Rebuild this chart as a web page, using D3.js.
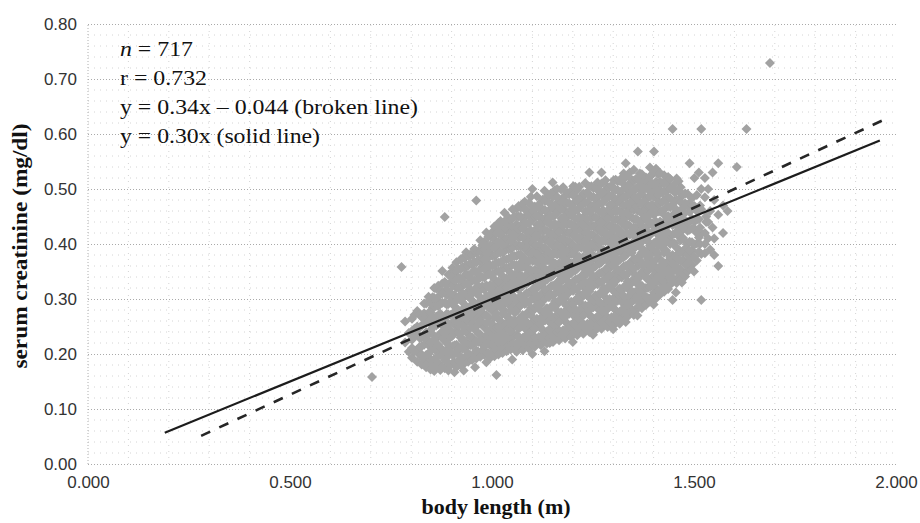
<!DOCTYPE html>
<html><head><meta charset="utf-8">
<script src="https://cdn.jsdelivr.net/npm/d3@7/dist/d3.min.js"></script>
<style>
html,body{margin:0;padding:0;background:#fff;}
svg{display:block;}
</style></head>
<body>
<svg id="chart" width="920" height="523"></svg>
<script>
// ---- data ----
const xTicks = [0, 0.5, 1.0, 1.5, 2.0];
const xTickLabels = ["0.000", "0.500", "1.000", "1.500", "2.000"];
const yTicks = [0, 0.1, 0.2, 0.3, 0.4, 0.5, 0.6, 0.7, 0.8];
const yTickLabels = ["0.00", "0.10", "0.20", "0.30", "0.40", "0.50", "0.60", "0.70", "0.80"];
const xMinorTicks = [0.1,0.2,0.3,0.4,0.6,0.7,0.8,0.9,1.1,1.2,1.3,1.4,1.6,1.7,1.8,1.9];
const yMinorTicks = [0.02,0.04,0.06,0.08,0.12,0.14,0.16,0.18,0.22,0.24,0.26,0.28,0.32,0.34,0.36,0.38,0.42,0.44,0.46,0.48,0.52,0.54,0.56,0.58,0.62,0.64,0.66,0.68,0.72,0.74,0.76,0.78];

// body length (m) and the serum creatinine (mg/dl) values read at that length
const scatterColumns = [
[0.703,[.158]],
[0.776,[.358]],
[0.785,[.221,.259]],
[0.794,[.204,.238]],
[0.802,[.193,.211,.242,.264]],
[0.808,[.205,.232,.246,.271]],
[0.815,[.186,.208,.237,.250,.278]],
[0.821,[.198,.229,.248,.272]],
[0.826,[.181,.199,.230,.252,.267]],
[0.832,[.19,.217,.231,.256,.292]],
[0.837,[.176,.198,.227,.240,.268,.292]],
[0.843,[.185,.216,.235,.259,.275,.304]],
[0.848,[.172,.190,.221,.243,.258,.292]],
[0.853,[.182,.209,.223,.248,.284,.303]],
[0.857,[.169,.191,.220,.233,.261,.285,.320]],
[0.862,[.178,.209,.228,.252,.268,.297,.319]],
[0.867,[.184,.202,.233,.255,.270,.304,.324]],
[0.872,[.171,.198,.212,.237,.273,.292,.315]],
[0.877,[.177,.199,.228,.241,.269,.293,.328,.351]],
[0.883,[.174,.205,.224,.248,.264,.293,.315,.449]],
[0.888,[.187,.205,.236,.258,.273,.307,.327]],
[0.892,[.170,.197,.211,.236,.272,.291,.314,.344]],
[0.897,[.179,.201,.230,.243,.271,.295,.330,.346]],
[0.902,[.183,.214,.233,.257,.273,.302,.324,.357]],
[0.907,[.167,.185,.216,.238,.253,.287,.307,.334,.350]],
[0.912,[.176,.203,.217,.242,.278,.297,.320,.350,.367]],
[0.917,[.188,.210,.239,.252,.280,.304,.339,.355]],
[0.922,[.180,.211,.230,.254,.270,.299,.321,.354,.372]],
[0.927,[.191,.209,.240,.262,.277,.311,.331,.358,.374]],
[0.932,[.183,.210,.224,.249,.285,.304,.327,.357,.374]],
[0.936,[.195,.217,.246,.259,.287,.311,.346,.362,.385]],
[0.941,[.186,.217,.236,.260,.276,.305,.327,.360,.378]],
[0.946,[.198,.216,.247,.269,.284,.318,.338,.365,.381]],
[0.951,[.189,.216,.230,.255,.291,.310,.333,.363,.380]],
[0.956,[.201,.223,.252,.265,.293,.317,.352,.368,.391]],
[0.961,[.192,.223,.242,.266,.282,.311,.333,.366,.384,.479]],
[0.966,[.204,.222,.253,.275,.290,.324,.344,.371,.387]],
[0.971,[.195,.222,.236,.261,.297,.316,.339,.369,.386,.407]],
[0.976,[.207,.229,.258,.271,.299,.323,.358,.374,.397]],
[0.981,[.198,.229,.248,.272,.288,.317,.339,.372,.390,.404]],
[0.986,[.185,.203,.234,.256,.271,.305,.325,.352,.368,.397,.421]],
[0.991,[.201,.228,.242,.267,.303,.322,.345,.375,.392,.413]],
[0.996,[.193,.215,.244,.257,.285,.309,.344,.360,.383,.414]],
[1.001,[.204,.235,.254,.278,.294,.323,.345,.378,.396,.422]],
[1.006,[.196,.214,.245,.267,.282,.316,.336,.363,.379,.408,.432]],
[1.011,[.162,.207,.234,.248,.273,.309,.328,.351,.381,.398,.419]],
[1.016,[.199,.221,.250,.263,.291,.315,.350,.366,.389,.420,.438]],
[1.021,[.210,.241,.260,.284,.300,.329,.351,.384,.402,.428,.442]],
[1.026,[.202,.220,.251,.273,.288,.322,.342,.369,.385,.414,.438]],
[1.031,[.213,.240,.254,.279,.315,.334,.357,.387,.404,.425,.457]],
[1.036,[.205,.227,.256,.269,.297,.321,.356,.372,.395,.426,.444]],
[1.041,[.216,.247,.266,.290,.306,.335,.357,.390,.408,.434,.448]],
[1.046,[.208,.226,.257,.279,.294,.328,.348,.375,.391,.420,.444]],
[1.051,[.219,.246,.260,.285,.321,.340,.363,.393,.410,.431,.463]],
[1.056,[.211,.233,.262,.275,.303,.327,.362,.378,.401,.432,.450]],
[1.061,[.204,.235,.254,.278,.294,.323,.345,.378,.396,.422,.436,.464]],
[1.066,[.214,.232,.263,.285,.300,.334,.354,.381,.397,.426,.450,.469]],
[1.071,[.222,.249,.263,.288,.324,.343,.366,.396,.413,.434,.466]],
[1.076,[.207,.229,.258,.271,.299,.323,.358,.374,.397,.428,.446,.473]],
[1.081,[.217,.248,.267,.291,.307,.336,.358,.391,.409,.435,.449,.477]],
[1.086,[.225,.243,.274,.296,.311,.345,.365,.392,.408,.437,.461]],
[1.091,[.210,.237,.251,.276,.312,.331,.354,.384,.401,.422,.454,.474]],
[1.096,[.220,.242,.271,.284,.312,.336,.371,.387,.410,.441,.459,.486]],
[1.101,[.228,.259,.278,.302,.318,.347,.369,.402,.420,.446,.460]],
[1.106,[.213,.231,.262,.284,.299,.333,.353,.380,.396,.425,.449,.468]],
[1.111,[.223,.250,.264,.289,.325,.344,.367,.397,.414,.435,.467,.487]],
[1.116,[.231,.253,.282,.295,.323,.347,.382,.398,.421,.452,.470]],
[1.121,[.216,.247,.266,.290,.306,.335,.357,.390,.408,.434,.448,.476]],
[1.126,[.226,.244,.275,.297,.312,.346,.366,.393,.409,.438,.462,.481]],
[1.131,[.234,.261,.275,.300,.336,.355,.378,.408,.425,.446,.478]],
[1.136,[.219,.241,.270,.283,.311,.335,.370,.386,.409,.440,.458,.485]],
[1.141,[.229,.260,.279,.303,.319,.348,.370,.403,.421,.447,.461,.489]],
[1.146,[.237,.255,.286,.308,.323,.357,.377,.404,.420,.449,.473,.492]],
[1.151,[.222,.249,.263,.288,.324,.343,.366,.396,.413,.434,.466,.486]],
[1.156,[.232,.254,.283,.296,.324,.348,.383,.399,.422,.453,.471,.498]],
[1.161,[.240,.271,.290,.314,.330,.359,.381,.414,.432,.458,.472,.500]],
[1.166,[.225,.243,.274,.296,.311,.345,.365,.392,.408,.437,.461,.480]],
[1.171,[.235,.262,.276,.301,.337,.356,.379,.409,.426,.447,.479,.499]],
[1.176,[.243,.265,.294,.307,.335,.359,.394,.410,.433,.464,.482,.503]],
[1.181,[.228,.259,.278,.302,.318,.347,.369,.402,.420,.446,.460,.488]],
[1.186,[.238,.256,.287,.309,.324,.358,.378,.405,.421,.450,.474,.493]],
[1.191,[.246,.273,.287,.312,.348,.367,.390,.420,.437,.458,.490]],
[1.196,[.231,.253,.282,.295,.323,.347,.382,.398,.421,.452,.470,.497]],
[1.201,[.241,.272,.291,.315,.331,.360,.382,.415,.433,.459,.473,.505]],
[1.206,[.249,.267,.298,.320,.335,.369,.389,.416,.432,.461,.485,.504]],
[1.211,[.234,.261,.275,.300,.336,.355,.378,.408,.425,.446,.478,.498]],
[1.216,[.244,.266,.295,.308,.336,.360,.395,.411,.434,.465,.483,.504]],
[1.221,[.252,.283,.302,.326,.342,.371,.393,.426,.444,.470,.484]],
[1.226,[.237,.255,.286,.308,.323,.357,.377,.404,.420,.449,.473,.492]],
[1.231,[.247,.274,.288,.313,.349,.368,.391,.421,.438,.459,.491,.511]],
[1.236,[.255,.277,.306,.319,.347,.371,.406,.422,.445,.476,.494]],
[1.241,[.240,.271,.290,.314,.330,.359,.381,.414,.432,.458,.472,.504,.530]],
[1.246,[.250,.268,.299,.321,.336,.370,.390,.417,.433,.462,.486,.505]],
[1.251,[.258,.285,.299,.324,.360,.379,.402,.432,.449,.470,.502]],
[1.256,[.243,.265,.294,.307,.335,.359,.394,.410,.433,.464,.482,.503]],
[1.261,[.253,.284,.303,.327,.343,.372,.394,.427,.445,.471,.485,.512]],
[1.266,[.261,.279,.310,.332,.347,.381,.401,.428,.444,.473,.497]],
[1.271,[.246,.273,.287,.312,.348,.367,.390,.420,.437,.458,.490,.510,.530]],
[1.276,[.256,.278,.307,.320,.348,.372,.407,.423,.446,.477,.495]],
[1.281,[.264,.295,.314,.338,.354,.383,.405,.438,.456,.482,.496,.516]],
[1.286,[.249,.267,.298,.320,.335,.369,.389,.416,.432,.461,.485,.504]],
[1.291,[.259,.286,.300,.325,.361,.380,.403,.433,.450,.471,.503]],
[1.296,[.267,.289,.318,.331,.359,.383,.418,.434,.457,.488,.506]],
[1.301,[.252,.283,.302,.326,.342,.371,.393,.426,.444,.470,.484,.516]],
[1.306,[.262,.280,.311,.333,.348,.382,.402,.429,.445,.474,.498,.517]],
[1.311,[.270,.297,.311,.336,.372,.391,.414,.444,.461,.482,.514]],
[1.316,[.255,.277,.306,.319,.347,.371,.406,.422,.445,.476,.494,.515]],
[1.321,[.265,.296,.315,.339,.355,.384,.406,.439,.457,.483,.497,.520]],
[1.326,[.273,.291,.322,.344,.359,.393,.413,.440,.456,.485,.509,.528]],
[1.331,[.258,.285,.299,.324,.360,.379,.402,.432,.449,.470,.502,.522,.547]],
[1.336,[.268,.290,.319,.332,.360,.384,.419,.435,.458,.489,.507]],
[1.341,[.276,.307,.326,.350,.366,.395,.417,.450,.468,.494,.508,.530]],
[1.346,[.281,.299,.330,.352,.367,.401,.421,.448,.464,.493,.517]],
[1.351,[.271,.298,.312,.337,.373,.392,.415,.445,.462,.483,.515,.535]],
[1.356,[.279,.301,.330,.343,.371,.395,.430,.446,.469,.500,.518]],
[1.361,[.286,.317,.336,.360,.376,.405,.427,.460,.478,.504,.518,.568]],
[1.366,[.292,.310,.341,.363,.378,.412,.432,.459,.475,.504,.528]],
[1.371,[.283,.310,.324,.349,.385,.404,.427,.457,.474,.495,.527]],
[1.376,[.297,.319,.348,.361,.389,.413,.448,.464,.487,.518]],
[1.381,[.289,.320,.339,.363,.379,.408,.430,.463,.481,.507,.521]],
[1.386,[.302,.320,.351,.373,.388,.422,.442,.469,.485,.514]],
[1.391,[.295,.322,.336,.361,.397,.416,.439,.469,.486,.507,.539]],
[1.396,[.305,.327,.356,.369,.397,.421,.456,.472,.495,.526]],
[1.401,[.312,.343,.362,.386,.402,.431,.453,.486,.504,.530,.568]],
[1.406,[.301,.319,.350,.372,.387,.421,.441,.468,.484,.513,.537]],
[1.411,[.315,.342,.356,.381,.417,.436,.459,.489,.506,.527]],
[1.416,[.308,.330,.359,.372,.400,.424,.459,.475,.498,.529]],
[1.421,[.319,.350,.369,.393,.409,.438,.460,.493,.511]],
[1.426,[.313,.331,.362,.384,.399,.433,.453,.480,.496,.525]],
[1.431,[.322,.349,.363,.388,.424,.443,.466,.496,.513]],
[1.436,[.318,.340,.369,.382,.410,.434,.469,.485,.508,.522]],
[1.441,[.326,.357,.376,.400,.416,.445,.467,.500,.518]],
[1.447,[.298,.331,.349,.380,.402,.417,.451,.471,.498,.609]],
[1.452,[.335,.362,.376,.401,.437,.456,.479,.509]],
[1.457,[.329,.351,.380,.393,.421,.445,.480,.496,.519]],
[1.462,[.340,.371,.390,.414,.430,.459,.481,.514]],
[1.467,[.336,.354,.385,.407,.422,.456,.476,.503]],
[1.473,[.345,.372,.386,.411,.447,.466,.489]],
[1.478,[.341,.363,.392,.405,.433,.457,.492]],
[1.484,[.350,.381,.400,.424,.440,.469,.491]],
[1.489,[.355,.373,.404,.426,.441,.475,.547]],
[1.495,[.362,.389,.403,.428,.464,.483]],
[1.501,[.377,.399,.428,.441,.469,.520]],
[1.507,[.370,.401,.420,.444,.460,.489]],
[1.512,[.386,.412,.445,.530]],
[1.518,[.298,.382,.419,.463,.500,.609]],
[1.527,[.383,.400,.420,.485,.520]],
[1.535,[.410,.440,.500]],
[1.546,[.430,.530]],
[1.560,[.360,.453,.547]],
[1.572,[.420,.470]],
[1.583,[.460]],
[1.606,[.540]],
[1.630,[.609]],
[1.688,[.729]]
];

// further points read inside the dense core and along its edges
const scatterFill = [
[0.802,[.226]],[0.821,[.213]],[0.826,[.214]],[0.832,[.274]],[0.843,[.200]],
[0.848,[.205,.275]],[0.853,[.266]],[0.857,[.302]],[0.862,[.193]],[0.867,[.217,.287]],
[0.872,[.255]],[0.877,[.310]],[0.883,[.189,.331]],[0.888,[.220,.290]],[0.892,[.254]],
[0.897,[.312]],[0.902,[.198,.340]],[0.907,[.200,.270]],[0.912,[.260,.335]],[0.917,[.321]],
[0.922,[.195,.337]],[0.927,[.224,.294]],[0.932,[.267,.342]],[0.936,[.328]],[0.941,[.201,.343]],
[0.946,[.231,.301]],[0.951,[.273,.348]],[0.956,[.334]],[0.961,[.207,.349]],[0.966,[.237,.307]],
[0.971,[.279,.354]],[0.976,[.340]],[0.981,[.213,.355]],[0.986,[.218,.288,.382]],[0.991,[.285,.360]],
[0.996,[.326,.398]],[1.001,[.219,.361]],[1.006,[.229,.299,.393]],[1.011,[.291,.366]],[1.016,[.332,.404]],
[1.021,[.225,.367]],[1.026,[.235,.305,.399]],[1.031,[.297,.372,.441]],[1.036,[.338,.410]],[1.041,[.231,.373]],
[1.046,[.241,.311,.405]],[1.051,[.303,.378,.447]],[1.056,[.344,.416]],[1.061,[.219,.361,.450]],[1.066,[.247,.317,.411]],
[1.071,[.306,.381,.450]],[1.076,[.340,.412]],[1.081,[.232,.374,.463]],[1.086,[.258,.328,.422]],[1.091,[.294,.369,.438]],
[1.096,[.353,.425,.472]],[1.101,[.243,.385]],[1.106,[.246,.316,.410]],[1.111,[.307,.382,.451]],[1.116,[.364,.436]],
[1.121,[.231,.373,.462]],[1.126,[.259,.329,.423]],[1.131,[.318,.393,.462]],[1.136,[.352,.424]],[1.141,[.244,.386,.475]],
[1.146,[.270,.340,.434]],[1.151,[.306,.381,.450]],[1.156,[.365,.437]],[1.161,[.255,.397,.486]],[1.166,[.258,.328,.422]],
[1.171,[.319,.394,.463]],[1.176,[.376,.448]],[1.181,[.243,.385,.474]],[1.186,[.271,.341,.435]],[1.191,[.330,.405,.474]],
[1.196,[.364,.436]],[1.201,[.256,.398,.489]],[1.206,[.282,.352,.446]],[1.211,[.318,.393,.462]],[1.216,[.377,.449]],
[1.221,[.267,.409]],[1.226,[.270,.340,.434]],[1.231,[.331,.406,.475]],[1.236,[.388,.460]],[1.241,[.255,.397,.488]],
[1.246,[.283,.353,.447]],[1.251,[.342,.417,.486]],[1.256,[.376,.448]],[1.261,[.268,.410,.498]],[1.266,[.294,.364,.458]],
[1.271,[.330,.405,.474]],[1.276,[.389,.461]],[1.281,[.279,.421]],[1.286,[.282,.352,.446]],[1.291,[.343,.418,.487]],
[1.296,[.400,.472]],[1.301,[.267,.409,.500]],[1.306,[.295,.365,.459]],[1.311,[.354,.429,.498]],[1.316,[.388,.460]],
[1.321,[.280,.422]],[1.326,[.306,.376,.470]],[1.331,[.342,.417,.486]],[1.336,[.401,.473]],[1.341,[.291,.433]],
[1.346,[.314,.384,.478]],[1.351,[.355,.430,.499]],[1.356,[.412,.484]],[1.361,[.301,.443]],[1.366,[.325,.395,.489]],
[1.371,[.367,.442,.511]],[1.376,[.430,.502]],[1.381,[.304,.446]],[1.386,[.335,.405,.499]],[1.391,[.379,.454,.523]],
[1.396,[.438,.510]],[1.401,[.327,.469]],[1.406,[.334,.404,.498]],[1.411,[.399,.474]],[1.416,[.441,.513]],
[1.421,[.334,.476]],[1.426,[.346,.416,.510]],[1.431,[.406,.481]],[1.436,[.451]],[1.441,[.341,.483]],
[1.447,[.364,.434]],[1.452,[.419,.494]],[1.457,[.462]],[1.462,[.355,.497]],[1.467,[.369,.439]],
[1.473,[.429]],[1.478,[.474]],[1.484,[.365]],[1.489,[.388,.458]],[1.495,[.446]],
[1.515,[.400,.430,.470]],[1.530,[.440,.450]],[1.540,[.390,.460]],[1.550,[.410,.480]],
[0.930,[.170]],[0.958,[.176]],[1.050,[.190]],[1.100,[.200]],[1.130,[.205]],[1.143,[.220]],
[1.200,[.222]],[1.250,[.235]],[1.300,[.245]],[1.360,[.270]],[1.400,[.290]],[1.455,[.312]],
[1.470,[.330]],[1.500,[.350]],[1.550,[.380]],[1.100,[.500]],[1.150,[.512]],[1.130,[.497]]
];

// regression lines: y = slope * x + intercept, drawn over [from, to]
const brokenLine = {slope: 0.34, intercept: -0.044, from: 0.28, to: 1.98};
const solidLine  = {slope: 0.30, intercept: 0,      from: 0.19, to: 1.96};

const annotation = [
  {it: "n", text: " = 717", width: 73},
  {it: "", text: "r = 0.732", width: 87},
  {it: "", text: "y = 0.34x \u2013 0.044 (broken line)", width: 298},
  {it: "", text: "y = 0.30x (solid line)", width: 200}
];

// ---- drawing ----
const svg = d3.select("#chart");
const x = d3.scaleLinear().domain([0, 2]).range([88, 896]);
const y = d3.scaleLinear().domain([0, 0.8]).range([464, 24]);

const g = svg.append("g");

// minor gridlines
g.selectAll("line.ymin").data(yMinorTicks).join("line")
  .attr("x1", x(0)).attr("x2", x(2)).attr("y1", d => y(d)).attr("y2", d => y(d))
  .attr("stroke", "#d4d4d4").attr("stroke-width", 1).attr("stroke-dasharray", "1,5");
g.selectAll("line.xmin").data(xMinorTicks).join("line")
  .attr("y1", y(0)).attr("y2", y(0.8)).attr("x1", d => x(d)).attr("x2", d => x(d))
  .attr("stroke", "#d4d4d4").attr("stroke-width", 1).attr("stroke-dasharray", "1,5");

// major gridlines (horizontal) via axis
const yGrid = d3.axisLeft(y).tickValues(yTicks).tickSize(-(x(2) - x(0))).tickFormat("");
const yg = g.append("g").attr("transform", `translate(${x(0)},0)`).call(yGrid);
yg.select(".domain").remove();
yg.selectAll("line").attr("stroke", "#aaaaaa").attr("stroke-dasharray", "1,2");

// left axis dotted line
g.append("line").attr("x1", x(0)).attr("x2", x(0)).attr("y1", y(0)).attr("y2", y(0.8))
  .attr("stroke", "#b0b0b0").attr("stroke-dasharray", "1,2");

// y tick labels
const yAxis = d3.axisLeft(y).tickValues(yTicks).tickSize(0).tickPadding(11)
  .tickFormat((d, i) => yTickLabels[i]);
const ya = svg.append("g").attr("transform", `translate(${x(0)},0)`).call(yAxis);
ya.select(".domain").remove();
ya.selectAll("text").attr("font-family", "Liberation Sans, Arial, sans-serif")
  .attr("font-size", 17).attr("fill", "#333");

// x tick labels
const xAxis = d3.axisBottom(x).tickValues(xTicks).tickSize(0).tickPadding(12)
  .tickFormat((d, i) => xTickLabels[i]);
const xa = svg.append("g").attr("transform", `translate(0,${y(0)})`).call(xAxis);
xa.select(".domain").remove();
xa.selectAll("text").attr("font-family", "Liberation Sans, Arial, sans-serif")
  .attr("font-size", 17).attr("fill", "#333");

// scatter points
const points = scatterColumns.concat(scatterFill)
  .flatMap(([bx, ys]) => ys.map(v => [bx, v]));
const diamond = "M0,-5L5,0L0,5L-5,0Z";
svg.append("g").selectAll("path").data(points).join("path")
  .attr("d", diamond)
  .attr("transform", d => `translate(${x(d[0])},${y(d[1])})`)
  .attr("fill", "#a2a2a2");

// regression lines
function seg(l) { return [[l.from, l.slope * l.from + l.intercept], [l.to, l.slope * l.to + l.intercept]]; }
const lineGen = d3.line().x(d => x(d[0])).y(d => y(d[1]));
svg.append("path").attr("d", lineGen(seg(solidLine)))
  .attr("stroke", "#1c1c1c").attr("stroke-width", 2.2).attr("fill", "none");
svg.append("path").attr("d", lineGen(seg(brokenLine)))
  .attr("stroke", "#262626").attr("stroke-width", 2.6).attr("fill", "none")
  .attr("stroke-dasharray", "10,10");

// annotation
const ann = svg.append("g").attr("font-family", "Liberation Serif, Times New Roman, serif")
  .attr("font-size", 22).attr("fill", "#111");
annotation.forEach((a, i) => {
  const t = ann.append("text").attr("x", 120).attr("y", 56 + i * 29)
    .attr("textLength", a.width).attr("lengthAdjust", "spacingAndGlyphs");
  if (a.it) t.append("tspan").attr("font-style", "italic").text(a.it);
  t.append("tspan").text(a.text);
});

// axis titles
svg.append("text").attr("x", (x(0) + x(2)) / 2 + 4).attr("y", 514)
  .attr("text-anchor", "middle").attr("font-family", "Liberation Serif, Times New Roman, serif")
  .attr("font-weight", "bold").attr("font-size", 22).attr("fill", "#111")
  .text("body length (m)");
svg.append("text").attr("transform", `translate(27,${(y(0) + y(0.8)) / 2 + 2}) rotate(-90)`)
  .attr("text-anchor", "middle").attr("font-family", "Liberation Serif, Times New Roman, serif")
  .attr("font-weight", "bold").attr("font-size", 22).attr("fill", "#111")
  .attr("textLength", 245).attr("lengthAdjust", "spacingAndGlyphs")
  .text("serum creatinine (mg/dl)");
</script>
</body></html>
